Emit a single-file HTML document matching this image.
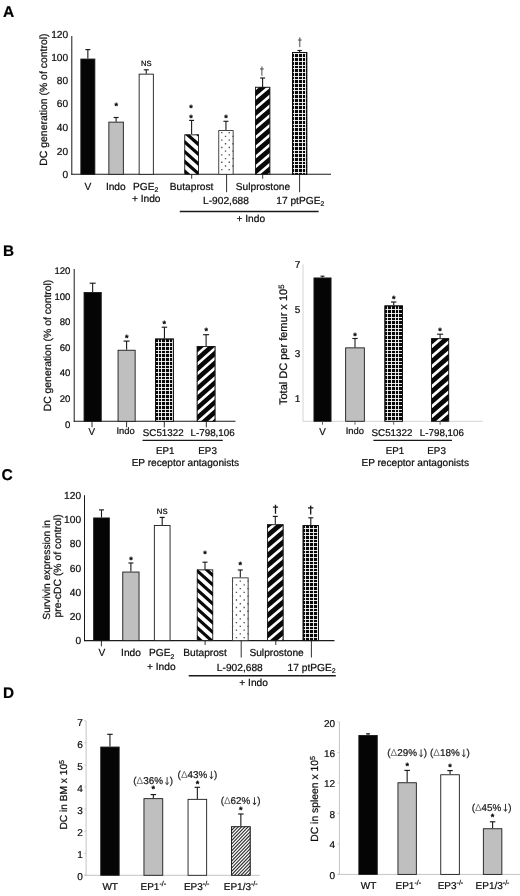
<!DOCTYPE html>
<html><head><meta charset="utf-8"><title>Figure</title>
<style>
html,body{margin:0;padding:0;background:#fff;}
body{width:520px;height:896px;overflow:hidden;font-family:"Liberation Sans", sans-serif;}
svg{display:block;font-family:"Liberation Sans", sans-serif;fill:#0d0d0d;text-rendering:geometricPrecision;filter:blur(0.35px);}
text{stroke:#0d0d0d;stroke-width:0.22px;}
</style></head><body>
<svg width="520" height="896" viewBox="0 0 520 896">
<defs>
</defs>
<rect width="520" height="896" fill="#fff"/>
<text x="3.00" y="17.00" font-size="15.5" text-anchor="start" font-weight="bold" fill="#000" >A</text>
<text x="3.00" y="256.10" font-size="15.3" text-anchor="start" font-weight="bold" fill="#000" >B</text>
<text x="1.60" y="480.40" font-size="15.6" text-anchor="start" font-weight="bold" fill="#000" >C</text>
<text x="3.00" y="697.50" font-size="15.3" text-anchor="start" font-weight="bold" fill="#000" >D</text>
<line x1="71.8" y1="36" x2="71.8" y2="174.8" stroke="#1a1a1a" stroke-width="1"/>
<line x1="71.3" y1="174.3" x2="331" y2="174.3" stroke="#1a1a1a" stroke-width="1.1"/>
<text x="68.20" y="38.47" font-size="10.2" text-anchor="end" >120</text>
<text x="68.20" y="60.57" font-size="10.2" text-anchor="end" >100</text>
<text x="68.20" y="84.27" font-size="10.2" text-anchor="end" >80</text>
<text x="68.20" y="107.27" font-size="10.2" text-anchor="end" >60</text>
<text x="68.20" y="131.17" font-size="10.2" text-anchor="end" >40</text>
<text x="68.20" y="154.67" font-size="10.2" text-anchor="end" >20</text>
<text x="68.20" y="177.67" font-size="10.2" text-anchor="end" >0</text>
<text transform="translate(46.7,99.6) rotate(-90)" font-size="10.45" text-anchor="middle">DC generation (% of control)</text>
<line x1="87.85" y1="58.6" x2="87.85" y2="49.6" stroke="#1a1a1a" stroke-width="1.1"/>
<line x1="85.35" y1="49.6" x2="90.35" y2="49.6" stroke="#1a1a1a" stroke-width="1.15"/>
<rect x="80.85" y="59.05" width="14.00" height="115.25" fill="#050505" stroke="#1a1a1a" stroke-width="0.9"/>
<line x1="116.1" y1="121.7" x2="116.1" y2="117.5" stroke="#1a1a1a" stroke-width="1.1"/>
<line x1="113.6" y1="117.5" x2="118.6" y2="117.5" stroke="#1a1a1a" stroke-width="1.15"/>
<rect x="108.85" y="122.15" width="14.50" height="52.15" fill="#bfbfbf" stroke="#1a1a1a" stroke-width="0.9"/>
<line x1="146.25" y1="73.7" x2="146.25" y2="69.8" stroke="#1a1a1a" stroke-width="1.1"/>
<line x1="143.75" y1="69.8" x2="148.75" y2="69.8" stroke="#1a1a1a" stroke-width="1.15"/>
<rect x="139.15" y="74.15" width="14.20" height="100.15" fill="#fff" stroke="#1a1a1a" stroke-width="0.9"/>
<line x1="191.60000000000002" y1="134.4" x2="191.60000000000002" y2="120.4" stroke="#1a1a1a" stroke-width="1.1"/>
<line x1="189.10000000000002" y1="120.4" x2="194.10000000000002" y2="120.4" stroke="#1a1a1a" stroke-width="1.15"/>
<clipPath id="c1"><rect x="184.30" y="134.40" width="14.60" height="39.90"/></clipPath>
<rect x="184.30" y="134.40" width="14.60" height="39.90" fill="#fdfdfd"/>
<path clip-path="url(#c1)" d="M184.30 100.47L198.90 113.30V117.60L184.30 104.77ZM184.30 110.24L198.90 123.07V127.37L184.30 114.54ZM184.30 120.01L198.90 132.84V137.14L184.30 124.31ZM184.30 129.78L198.90 142.61V146.91L184.30 134.08ZM184.30 139.55L198.90 152.38V156.68L184.30 143.85ZM184.30 149.32L198.90 162.15V166.45L184.30 153.62ZM184.30 159.09L198.90 171.92V176.22L184.30 163.39ZM184.30 168.86L198.90 181.69V185.99L184.30 173.16ZM184.30 178.63L198.90 191.46V195.76L184.30 182.93ZM184.30 188.40L198.90 201.23V205.53L184.30 192.70Z" fill="#080808"/>
<rect x="184.75" y="134.85" width="13.70" height="39.45" fill="none" stroke="#1a1a1a" stroke-width="0.9"/>
<line x1="225.95" y1="130.1" x2="225.95" y2="121.3" stroke="#1a1a1a" stroke-width="1.1"/>
<line x1="223.45" y1="121.3" x2="228.45" y2="121.3" stroke="#1a1a1a" stroke-width="1.15"/>
<rect x="218.75" y="130.55" width="14.40" height="43.75" fill="#fff" stroke="#333" stroke-width="0.9"/>
<path d="M221.12 132.02h1.35v1.35h-1.35zM228.59 132.02h1.35v1.35h-1.35zM224.85 135.72h1.35v1.35h-1.35zM232.31 135.72h1.35v1.35h-1.35zM221.12 139.42h1.35v1.35h-1.35zM228.59 139.42h1.35v1.35h-1.35zM224.85 143.12h1.35v1.35h-1.35zM232.31 143.12h1.35v1.35h-1.35zM221.12 146.82h1.35v1.35h-1.35zM228.59 146.82h1.35v1.35h-1.35zM224.85 150.52h1.35v1.35h-1.35zM232.31 150.52h1.35v1.35h-1.35zM221.12 154.22h1.35v1.35h-1.35zM228.59 154.22h1.35v1.35h-1.35zM224.85 157.92h1.35v1.35h-1.35zM232.31 157.92h1.35v1.35h-1.35zM221.12 161.62h1.35v1.35h-1.35zM228.59 161.62h1.35v1.35h-1.35zM224.85 165.32h1.35v1.35h-1.35zM232.31 165.32h1.35v1.35h-1.35zM221.12 169.02h1.35v1.35h-1.35zM228.59 169.02h1.35v1.35h-1.35z" fill="#505050"/>
<line x1="262.6" y1="86.9" x2="262.6" y2="78" stroke="#1a1a1a" stroke-width="1.1"/>
<line x1="260.1" y1="78" x2="265.1" y2="78" stroke="#1a1a1a" stroke-width="1.15"/>
<clipPath id="c2"><rect x="255.00" y="86.90" width="15.20" height="87.40"/></clipPath>
<rect x="255.00" y="86.90" width="15.20" height="87.40" fill="#080808"/>
<path clip-path="url(#c2)" d="M255.00 58.03L270.20 45.05V48.55L255.00 61.53ZM255.00 67.80L270.20 54.82V58.32L255.00 71.30ZM255.00 77.57L270.20 64.59V68.09L255.00 81.07ZM255.00 87.34L270.20 74.36V77.86L255.00 90.84ZM255.00 97.11L270.20 84.13V87.63L255.00 100.61ZM255.00 106.88L270.20 93.90V97.40L255.00 110.38ZM255.00 116.65L270.20 103.67V107.17L255.00 120.15ZM255.00 126.42L270.20 113.44V116.94L255.00 129.92ZM255.00 136.19L270.20 123.21V126.71L255.00 139.69ZM255.00 145.96L270.20 132.98V136.48L255.00 149.46ZM255.00 155.73L270.20 142.75V146.25L255.00 159.23ZM255.00 165.50L270.20 152.52V156.02L255.00 169.00ZM255.00 175.27L270.20 162.29V165.79L255.00 178.77ZM255.00 185.04L270.20 172.06V175.56L255.00 188.54ZM255.00 194.81L270.20 181.83V185.33L255.00 198.31Z" fill="#fdfdfd"/>
<rect x="255.45" y="87.35" width="14.30" height="86.95" fill="none" stroke="#1a1a1a" stroke-width="0.9"/>
<line x1="299.6" y1="52" x2="299.6" y2="50.5" stroke="#1a1a1a" stroke-width="1.1"/>
<line x1="297.35" y1="50.5" x2="301.85" y2="50.5" stroke="#1a1a1a" stroke-width="1.15"/>
<rect x="292.00" y="52.00" width="15.20" height="122.30" fill="#080808"/>
<path d="M294.5 52.80V174.30M298.5 52.80V174.30M302.5 52.80V174.30M305.5 52.80V174.30M292.80 53.5H306.40M292.80 57.5H306.40M292.80 61.5H306.40M292.80 65.5H306.40M292.80 68.5H306.40M292.80 72.5H306.40M292.80 76.5H306.40M292.80 79.5H306.40M292.80 83.5H306.40M292.80 87.5H306.40M292.80 90.5H306.40M292.80 94.5H306.40M292.80 98.5H306.40M292.80 102.5H306.40M292.80 105.5H306.40M292.80 109.5H306.40M292.80 113.5H306.40M292.80 116.5H306.40M292.80 120.5H306.40M292.80 124.5H306.40M292.80 127.5H306.40M292.80 131.5H306.40M292.80 135.5H306.40M292.80 139.5H306.40M292.80 142.5H306.40M292.80 146.5H306.40M292.80 150.5H306.40M292.80 153.5H306.40M292.80 157.5H306.40M292.80 161.5H306.40M292.80 164.5H306.40M292.80 168.5H306.40M292.80 172.5H306.40" fill="none" stroke="#ffffff" stroke-width="0.88"/>
<rect x="292.45" y="52.45" width="14.30" height="121.85" fill="none" stroke="#111" stroke-width="0.9"/>
<text x="116.30" y="108.81" font-size="9" text-anchor="middle" font-weight="bold" fill="#000" >*</text>
<text x="146.20" y="65.64" font-size="7.6" text-anchor="middle" fill="#000" >NS</text>
<text x="190.90" y="110.51" font-size="9" text-anchor="middle" font-weight="bold" fill="#000" >*</text>
<text x="190.90" y="120.91" font-size="9" text-anchor="middle" font-weight="bold" fill="#000" >*</text>
<text x="226.00" y="120.81" font-size="9" text-anchor="middle" font-weight="bold" fill="#000" >*</text>
<path d="M261.90 66.40V75.80M260.00 68.94H263.80" fill="none" stroke="#4a4a4a" stroke-width="1.0"/>
<path d="M299.80 37.40V47.10M297.90 40.02H301.70" fill="none" stroke="#4a4a4a" stroke-width="1.0"/>
<line x1="191.7" y1="174.3" x2="191.7" y2="178.8" stroke="#1a1a1a" stroke-width="0.9"/>
<line x1="226.6" y1="174.3" x2="226.6" y2="192.2" stroke="#1a1a1a" stroke-width="0.9"/>
<line x1="262.7" y1="174.3" x2="262.7" y2="178.8" stroke="#1a1a1a" stroke-width="0.9"/>
<line x1="299.6" y1="174.3" x2="299.6" y2="192.2" stroke="#1a1a1a" stroke-width="0.9"/>
<text x="87.80" y="190.00" font-size="10.2" text-anchor="middle" >V</text>
<text x="115.80" y="190.00" font-size="10.2" text-anchor="middle" >Indo</text>
<text x="145.70" y="189.80" font-size="10.2" text-anchor="middle" >PGE<tspan font-size="68%" dy="2.6">2</tspan></text>
<text x="146.20" y="202.30" font-size="10.2" text-anchor="middle" >+ Indo</text>
<text x="191.60" y="190.00" font-size="10.2" text-anchor="middle" >Butaprost</text>
<text x="263.00" y="190.00" font-size="10.2" text-anchor="middle" >Sulprostone</text>
<text x="226.00" y="203.70" font-size="10.2" text-anchor="middle" >L-902,688</text>
<text x="300.30" y="203.70" font-size="10.2" text-anchor="middle" >17 ptPGE<tspan font-size="68%" dy="2.6">2</tspan></text>
<line x1="179.8" y1="211.4" x2="318.6" y2="211.4" stroke="#1a1a1a" stroke-width="1.5"/>
<text x="250.80" y="222.20" font-size="10.2" text-anchor="middle" >+ Indo</text>
<line x1="74.2" y1="269" x2="74.2" y2="421.8" stroke="#1a1a1a" stroke-width="1"/>
<line x1="73.7" y1="421.3" x2="235.5" y2="421.3" stroke="#1a1a1a" stroke-width="1.1"/>
<text x="70.40" y="273.76" font-size="9.6" text-anchor="end" >120</text>
<text x="70.40" y="299.76" font-size="9.6" text-anchor="end" >100</text>
<text x="70.40" y="324.76" font-size="9.6" text-anchor="end" >80</text>
<text x="70.40" y="350.56" font-size="9.6" text-anchor="end" >60</text>
<text x="70.40" y="376.26" font-size="9.6" text-anchor="end" >40</text>
<text x="70.40" y="401.86" font-size="9.6" text-anchor="end" >20</text>
<text x="70.40" y="427.76" font-size="9.6" text-anchor="end" >0</text>
<text transform="translate(50.8,345.5) rotate(-90)" font-size="10.4" text-anchor="middle">DC generation (% of control)</text>
<line x1="92.65" y1="292.1" x2="92.65" y2="283.2" stroke="#1a1a1a" stroke-width="1.1"/>
<line x1="89.65" y1="283.2" x2="95.65" y2="283.2" stroke="#1a1a1a" stroke-width="1.15"/>
<rect x="84.05" y="292.55" width="17.20" height="128.75" fill="#050505" stroke="#1a1a1a" stroke-width="0.9"/>
<line x1="126.6" y1="349.8" x2="126.6" y2="341.1" stroke="#1a1a1a" stroke-width="1.1"/>
<line x1="123.6" y1="341.1" x2="129.6" y2="341.1" stroke="#1a1a1a" stroke-width="1.15"/>
<rect x="118.05" y="350.25" width="17.10" height="71.05" fill="#bfbfbf" stroke="#1a1a1a" stroke-width="0.9"/>
<line x1="164.45" y1="338.6" x2="164.45" y2="327.2" stroke="#1a1a1a" stroke-width="1.1"/>
<line x1="161.75" y1="327.2" x2="167.14999999999998" y2="327.2" stroke="#1a1a1a" stroke-width="1.15"/>
<rect x="155.10" y="338.60" width="18.70" height="82.70" fill="#080808"/>
<path d="M158.5 339.40V421.30M161.5 339.40V421.30M165.5 339.40V421.30M169.5 339.40V421.30M172.5 339.40V421.30M155.90 342.5H173.00M155.90 346.5H173.00M155.90 350.5H173.00M155.90 353.5H173.00M155.90 357.5H173.00M155.90 361.5H173.00M155.90 365.5H173.00M155.90 368.5H173.00M155.90 372.5H173.00M155.90 376.5H173.00M155.90 379.5H173.00M155.90 383.5H173.00M155.90 387.5H173.00M155.90 390.5H173.00M155.90 394.5H173.00M155.90 398.5H173.00M155.90 401.5H173.00M155.90 405.5H173.00M155.90 409.5H173.00M155.90 412.5H173.00M155.90 416.5H173.00M155.90 420.5H173.00" fill="none" stroke="#ffffff" stroke-width="0.88"/>
<rect x="155.55" y="339.05" width="17.80" height="82.25" fill="none" stroke="#111" stroke-width="0.9"/>
<line x1="206.10000000000002" y1="346" x2="206.10000000000002" y2="334.7" stroke="#1a1a1a" stroke-width="1.1"/>
<line x1="203.10000000000002" y1="334.7" x2="209.10000000000002" y2="334.7" stroke="#1a1a1a" stroke-width="1.15"/>
<clipPath id="c3"><rect x="196.80" y="346.00" width="18.60" height="75.30"/></clipPath>
<rect x="196.80" y="346.00" width="18.60" height="75.30" fill="#080808"/>
<path clip-path="url(#c3)" d="M196.80 313.90L215.40 297.39V300.99L196.80 317.50ZM196.80 323.67L215.40 307.16V310.76L196.80 327.27ZM196.80 333.44L215.40 316.93V320.53L196.80 337.04ZM196.80 343.21L215.40 326.70V330.30L196.80 346.81ZM196.80 352.98L215.40 336.47V340.07L196.80 356.58ZM196.80 362.75L215.40 346.24V349.84L196.80 366.35ZM196.80 372.52L215.40 356.01V359.61L196.80 376.12ZM196.80 382.29L215.40 365.78V369.38L196.80 385.89ZM196.80 392.06L215.40 375.55V379.15L196.80 395.66ZM196.80 401.83L215.40 385.32V388.92L196.80 405.43ZM196.80 411.60L215.40 395.09V398.69L196.80 415.20ZM196.80 421.37L215.40 404.86V408.46L196.80 424.97ZM196.80 431.14L215.40 414.63V418.23L196.80 434.74ZM196.80 440.91L215.40 424.40V428.00L196.80 444.51Z" fill="#fdfdfd"/>
<rect x="197.25" y="346.45" width="17.70" height="74.85" fill="none" stroke="#1a1a1a" stroke-width="0.9"/>
<text x="126.70" y="340.50" font-size="9" text-anchor="middle" font-weight="bold" fill="#000" >*</text>
<text x="164.30" y="327.11" font-size="9" text-anchor="middle" font-weight="bold" fill="#000" >*</text>
<text x="206.30" y="334.11" font-size="9" text-anchor="middle" font-weight="bold" fill="#000" >*</text>
<line x1="92.0" y1="421.3" x2="92.0" y2="427.3" stroke="#1a1a1a" stroke-width="0.9"/>
<line x1="126.6" y1="421.3" x2="126.6" y2="427.3" stroke="#1a1a1a" stroke-width="0.9"/>
<line x1="164.3" y1="421.3" x2="164.3" y2="427.3" stroke="#1a1a1a" stroke-width="0.9"/>
<line x1="206.3" y1="421.3" x2="206.3" y2="427.3" stroke="#1a1a1a" stroke-width="0.9"/>
<text x="91.80" y="435.00" font-size="9.8" text-anchor="middle" >V</text>
<text x="125.60" y="434.20" font-size="9.4" text-anchor="middle" >Indo</text>
<text x="163.20" y="436.40" font-size="9.8" text-anchor="middle" >SC51322</text>
<text x="212.60" y="436.40" font-size="9.8" text-anchor="middle" >L-798,106</text>
<line x1="142.5" y1="440.4" x2="222.8" y2="440.4" stroke="#1a1a1a" stroke-width="1.2"/>
<text x="165.30" y="453.73" font-size="9.8" text-anchor="middle" >EP1</text>
<text x="207.60" y="453.73" font-size="9.8" text-anchor="middle" >EP3</text>
<text x="185.40" y="466.48" font-size="10.1" text-anchor="middle" >EP receptor antagonists</text>
<line x1="303" y1="264.4" x2="303" y2="421.3" stroke="#d4d4d4" stroke-width="1"/>
<line x1="303" y1="421.3" x2="482.5" y2="421.3" stroke="#d4d4d4" stroke-width="1"/>
<text x="300.20" y="267.90" font-size="10" text-anchor="end" >7</text>
<text x="300.20" y="312.80" font-size="10" text-anchor="end" >5</text>
<text x="300.20" y="357.40" font-size="10" text-anchor="end" >3</text>
<text x="300.20" y="402.20" font-size="10" text-anchor="end" >1</text>
<text transform="translate(287.2,344.8) rotate(-90)" font-size="11.0" text-anchor="middle">Total DC per femur x 10<tspan font-size="70%" dy="-3.6">5</tspan></text>
<line x1="322.5" y1="277.5" x2="322.5" y2="276.2" stroke="#1a1a1a" stroke-width="1.1"/>
<line x1="320.5" y1="276.2" x2="324.5" y2="276.2" stroke="#1a1a1a" stroke-width="1.15"/>
<rect x="313.95" y="277.95" width="17.10" height="143.35" fill="#050505" stroke="#1a1a1a" stroke-width="0.9"/>
<line x1="355.0" y1="347.4" x2="355.0" y2="338.5" stroke="#1a1a1a" stroke-width="1.1"/>
<line x1="352.3" y1="338.5" x2="357.7" y2="338.5" stroke="#1a1a1a" stroke-width="1.15"/>
<rect x="345.65" y="347.85" width="18.70" height="73.45" fill="#bfbfbf" stroke="#1a1a1a" stroke-width="0.9"/>
<line x1="393.7" y1="305.5" x2="393.7" y2="302" stroke="#1a1a1a" stroke-width="1.1"/>
<line x1="391.0" y1="302" x2="396.4" y2="302" stroke="#1a1a1a" stroke-width="1.15"/>
<rect x="384.50" y="305.50" width="18.40" height="115.80" fill="#080808"/>
<path d="M387.5 306.30V421.30M391.5 306.30V421.30M395.5 306.30V421.30M398.5 306.30V421.30M385.30 309.5H402.10M385.30 313.5H402.10M385.30 317.5H402.10M385.30 320.5H402.10M385.30 324.5H402.10M385.30 328.5H402.10M385.30 331.5H402.10M385.30 335.5H402.10M385.30 339.5H402.10M385.30 342.5H402.10M385.30 346.5H402.10M385.30 350.5H402.10M385.30 353.5H402.10M385.30 357.5H402.10M385.30 361.5H402.10M385.30 364.5H402.10M385.30 368.5H402.10M385.30 372.5H402.10M385.30 375.5H402.10M385.30 379.5H402.10M385.30 383.5H402.10M385.30 386.5H402.10M385.30 390.5H402.10M385.30 394.5H402.10M385.30 398.5H402.10M385.30 401.5H402.10M385.30 405.5H402.10M385.30 409.5H402.10M385.30 412.5H402.10M385.30 416.5H402.10M385.30 420.5H402.10" fill="none" stroke="#ffffff" stroke-width="0.88"/>
<rect x="384.95" y="305.95" width="17.50" height="115.35" fill="none" stroke="#111" stroke-width="0.9"/>
<line x1="440.1" y1="338.2" x2="440.1" y2="334.2" stroke="#1a1a1a" stroke-width="1.1"/>
<line x1="437.1" y1="334.2" x2="443.1" y2="334.2" stroke="#1a1a1a" stroke-width="1.15"/>
<clipPath id="c4"><rect x="431.10" y="338.20" width="18.00" height="83.10"/></clipPath>
<rect x="431.10" y="338.20" width="18.00" height="83.10" fill="#080808"/>
<path clip-path="url(#c4)" d="M431.10 305.30L449.10 289.65V293.25L431.10 308.90ZM431.10 315.30L449.10 299.65V303.25L431.10 318.90ZM431.10 325.30L449.10 309.65V313.25L431.10 328.90ZM431.10 335.30L449.10 319.65V323.25L431.10 338.90ZM431.10 345.30L449.10 329.65V333.25L431.10 348.90ZM431.10 355.30L449.10 339.65V343.25L431.10 358.90ZM431.10 365.30L449.10 349.65V353.25L431.10 368.90ZM431.10 375.30L449.10 359.65V363.25L431.10 378.90ZM431.10 385.30L449.10 369.65V373.25L431.10 388.90ZM431.10 395.30L449.10 379.65V383.25L431.10 398.90ZM431.10 405.30L449.10 389.65V393.25L431.10 408.90ZM431.10 415.30L449.10 399.65V403.25L431.10 418.90ZM431.10 425.30L449.10 409.65V413.25L431.10 428.90ZM431.10 435.30L449.10 419.65V423.25L431.10 438.90Z" fill="#fdfdfd"/>
<rect x="431.55" y="338.65" width="17.10" height="82.65" fill="none" stroke="#1a1a1a" stroke-width="0.9"/>
<text x="355.00" y="339.00" font-size="9" text-anchor="middle" font-weight="bold" fill="#000" >*</text>
<text x="393.70" y="302.31" font-size="9" text-anchor="middle" font-weight="bold" fill="#000" >*</text>
<text x="440.10" y="333.81" font-size="9" text-anchor="middle" font-weight="bold" fill="#000" >*</text>
<line x1="322.5" y1="421.3" x2="322.5" y2="424.7" stroke="#555" stroke-width="0.9"/>
<line x1="355" y1="421.3" x2="355" y2="424.7" stroke="#555" stroke-width="0.9"/>
<line x1="393.7" y1="421.3" x2="393.7" y2="424.7" stroke="#555" stroke-width="0.9"/>
<line x1="440.1" y1="421.3" x2="440.1" y2="424.7" stroke="#555" stroke-width="0.9"/>
<text x="322.40" y="435.20" font-size="9.8" text-anchor="middle" >V</text>
<text x="354.80" y="434.40" font-size="9.4" text-anchor="middle" >Indo</text>
<text x="392.00" y="436.20" font-size="9.8" text-anchor="middle" >SC51322</text>
<text x="441.90" y="436.30" font-size="9.8" text-anchor="middle" >L-798,106</text>
<line x1="373.4" y1="440.4" x2="452" y2="440.4" stroke="#1a1a1a" stroke-width="1.2"/>
<text x="395.00" y="453.73" font-size="9.8" text-anchor="middle" >EP1</text>
<text x="436.60" y="453.73" font-size="9.8" text-anchor="middle" >EP3</text>
<text x="415.20" y="465.88" font-size="10.1" text-anchor="middle" >EP receptor antagonists</text>
<line x1="84.5" y1="495.2" x2="84.5" y2="641.1" stroke="#1a1a1a" stroke-width="1"/>
<line x1="84.0" y1="640.6" x2="334.5" y2="640.6" stroke="#1a1a1a" stroke-width="1.1"/>
<text x="81.10" y="499.27" font-size="10.2" text-anchor="end" >120</text>
<text x="81.10" y="523.37" font-size="10.2" text-anchor="end" >100</text>
<text x="81.10" y="547.47" font-size="10.2" text-anchor="end" >80</text>
<text x="81.10" y="571.77" font-size="10.2" text-anchor="end" >60</text>
<text x="81.10" y="595.67" font-size="10.2" text-anchor="end" >40</text>
<text x="81.10" y="619.87" font-size="10.2" text-anchor="end" >20</text>
<text x="81.10" y="643.97" font-size="10.2" text-anchor="end" >0</text>
<text transform="translate(49.9,569.8) rotate(-90)" font-size="10.25" text-anchor="middle">Survivin expression in</text>
<text transform="translate(61.0,566) rotate(-90)" font-size="10.38" text-anchor="middle">pre-cDC (% of control)</text>
<line x1="101.5" y1="517.5" x2="101.5" y2="509.9" stroke="#1a1a1a" stroke-width="1.1"/>
<line x1="99.0" y1="509.9" x2="104.0" y2="509.9" stroke="#1a1a1a" stroke-width="1.15"/>
<rect x="93.65" y="517.95" width="15.70" height="122.65" fill="#050505" stroke="#1a1a1a" stroke-width="0.9"/>
<line x1="130.9" y1="571.6" x2="130.9" y2="563" stroke="#1a1a1a" stroke-width="1.1"/>
<line x1="128.4" y1="563" x2="133.4" y2="563" stroke="#1a1a1a" stroke-width="1.15"/>
<rect x="122.75" y="572.05" width="16.30" height="68.55" fill="#bfbfbf" stroke="#1a1a1a" stroke-width="0.9"/>
<line x1="162.2" y1="525.1" x2="162.2" y2="517.4" stroke="#1a1a1a" stroke-width="1.1"/>
<line x1="159.7" y1="517.4" x2="164.7" y2="517.4" stroke="#1a1a1a" stroke-width="1.15"/>
<rect x="154.35" y="525.55" width="15.70" height="115.05" fill="#fff" stroke="#1a1a1a" stroke-width="0.9"/>
<line x1="205.0" y1="569.4" x2="205.0" y2="562.2" stroke="#1a1a1a" stroke-width="1.1"/>
<line x1="202.5" y1="562.2" x2="207.5" y2="562.2" stroke="#1a1a1a" stroke-width="1.15"/>
<clipPath id="c5"><rect x="196.80" y="569.40" width="16.40" height="71.20"/></clipPath>
<rect x="196.80" y="569.40" width="16.40" height="71.20" fill="#fdfdfd"/>
<path clip-path="url(#c5)" d="M196.80 539.85L213.20 554.62V558.72L196.80 543.95ZM196.80 549.35L213.20 564.12V568.22L196.80 553.45ZM196.80 558.85L213.20 573.62V577.72L196.80 562.95ZM196.80 568.35L213.20 583.12V587.22L196.80 572.45ZM196.80 577.85L213.20 592.62V596.72L196.80 581.95ZM196.80 587.35L213.20 602.12V606.22L196.80 591.45ZM196.80 596.85L213.20 611.62V615.72L196.80 600.95ZM196.80 606.35L213.20 621.12V625.22L196.80 610.45ZM196.80 615.85L213.20 630.62V634.72L196.80 619.95ZM196.80 625.35L213.20 640.12V644.22L196.80 629.45ZM196.80 634.85L213.20 649.62V653.72L196.80 638.95ZM196.80 644.35L213.20 659.12V663.22L196.80 648.45ZM196.80 653.85L213.20 668.62V672.72L196.80 657.95Z" fill="#080808"/>
<rect x="197.25" y="569.85" width="15.50" height="70.75" fill="none" stroke="#1a1a1a" stroke-width="0.9"/>
<line x1="240.3" y1="577.4" x2="240.3" y2="570" stroke="#1a1a1a" stroke-width="1.1"/>
<line x1="237.8" y1="570" x2="242.8" y2="570" stroke="#1a1a1a" stroke-width="1.15"/>
<rect x="232.45" y="577.85" width="15.70" height="62.75" fill="#fff" stroke="#333" stroke-width="0.9"/>
<path d="M231.91 580.43h1.35v1.35h-1.35zM239.62 580.43h1.35v1.35h-1.35zM247.34 580.43h1.35v1.35h-1.35zM235.77 584.20h1.35v1.35h-1.35zM243.49 584.20h1.35v1.35h-1.35zM231.91 587.97h1.35v1.35h-1.35zM239.62 587.97h1.35v1.35h-1.35zM247.34 587.97h1.35v1.35h-1.35zM235.77 591.74h1.35v1.35h-1.35zM243.49 591.74h1.35v1.35h-1.35zM231.91 595.51h1.35v1.35h-1.35zM239.62 595.51h1.35v1.35h-1.35zM247.34 595.51h1.35v1.35h-1.35zM235.77 599.28h1.35v1.35h-1.35zM243.49 599.28h1.35v1.35h-1.35zM231.91 603.05h1.35v1.35h-1.35zM239.62 603.05h1.35v1.35h-1.35zM247.34 603.05h1.35v1.35h-1.35zM235.77 606.82h1.35v1.35h-1.35zM243.49 606.82h1.35v1.35h-1.35zM231.91 610.59h1.35v1.35h-1.35zM239.62 610.59h1.35v1.35h-1.35zM247.34 610.59h1.35v1.35h-1.35zM235.77 614.36h1.35v1.35h-1.35zM243.49 614.36h1.35v1.35h-1.35zM231.91 618.13h1.35v1.35h-1.35zM239.62 618.13h1.35v1.35h-1.35zM247.34 618.13h1.35v1.35h-1.35zM235.77 621.90h1.35v1.35h-1.35zM243.49 621.90h1.35v1.35h-1.35zM231.91 625.67h1.35v1.35h-1.35zM239.62 625.67h1.35v1.35h-1.35zM247.34 625.67h1.35v1.35h-1.35zM235.77 629.44h1.35v1.35h-1.35zM243.49 629.44h1.35v1.35h-1.35zM231.91 633.21h1.35v1.35h-1.35zM239.62 633.21h1.35v1.35h-1.35zM247.34 633.21h1.35v1.35h-1.35zM235.77 636.98h1.35v1.35h-1.35zM243.49 636.98h1.35v1.35h-1.35z" fill="#505050"/>
<line x1="275.3" y1="524.3" x2="275.3" y2="516.4" stroke="#1a1a1a" stroke-width="1.1"/>
<line x1="272.8" y1="516.4" x2="277.8" y2="516.4" stroke="#1a1a1a" stroke-width="1.15"/>
<clipPath id="c6"><rect x="267.10" y="524.30" width="16.40" height="116.30"/></clipPath>
<rect x="267.10" y="524.30" width="16.40" height="116.30" fill="#080808"/>
<path clip-path="url(#c6)" d="M267.10 489.10L283.50 475.14V478.74L267.10 492.70ZM267.10 499.10L283.50 485.14V488.74L267.10 502.70ZM267.10 509.10L283.50 495.14V498.74L267.10 512.70ZM267.10 519.10L283.50 505.14V508.74L267.10 522.70ZM267.10 529.10L283.50 515.14V518.74L267.10 532.70ZM267.10 539.10L283.50 525.14V528.74L267.10 542.70ZM267.10 549.10L283.50 535.14V538.74L267.10 552.70ZM267.10 559.10L283.50 545.14V548.74L267.10 562.70ZM267.10 569.10L283.50 555.14V558.74L267.10 572.70ZM267.10 579.10L283.50 565.14V568.74L267.10 582.70ZM267.10 589.10L283.50 575.14V578.74L267.10 592.70ZM267.10 599.10L283.50 585.14V588.74L267.10 602.70ZM267.10 609.10L283.50 595.14V598.74L267.10 612.70ZM267.10 619.10L283.50 605.14V608.74L267.10 622.70ZM267.10 629.10L283.50 615.14V618.74L267.10 632.70ZM267.10 639.10L283.50 625.14V628.74L267.10 642.70ZM267.10 649.10L283.50 635.14V638.74L267.10 652.70ZM267.10 659.10L283.50 645.14V648.74L267.10 662.70Z" fill="#fdfdfd"/>
<rect x="267.55" y="524.75" width="15.50" height="115.85" fill="none" stroke="#1a1a1a" stroke-width="0.9"/>
<line x1="310.79999999999995" y1="525.1" x2="310.79999999999995" y2="517.8" stroke="#1a1a1a" stroke-width="1.1"/>
<line x1="308.29999999999995" y1="517.8" x2="313.29999999999995" y2="517.8" stroke="#1a1a1a" stroke-width="1.15"/>
<rect x="302.70" y="525.10" width="16.20" height="115.50" fill="#080808"/>
<path d="M305.5 525.90V640.60M309.5 525.90V640.60M313.5 525.90V640.60M317.5 525.90V640.60M303.50 528.5H318.10M303.50 532.5H318.10M303.50 535.5H318.10M303.50 539.5H318.10M303.50 542.5H318.10M303.50 546.5H318.10M303.50 550.5H318.10M303.50 553.5H318.10M303.50 557.5H318.10M303.50 561.5H318.10M303.50 564.5H318.10M303.50 568.5H318.10M303.50 571.5H318.10M303.50 575.5H318.10M303.50 579.5H318.10M303.50 582.5H318.10M303.50 586.5H318.10M303.50 590.5H318.10M303.50 593.5H318.10M303.50 597.5H318.10M303.50 600.5H318.10M303.50 604.5H318.10M303.50 608.5H318.10M303.50 611.5H318.10M303.50 615.5H318.10M303.50 619.5H318.10M303.50 622.5H318.10M303.50 626.5H318.10M303.50 629.5H318.10M303.50 633.5H318.10M303.50 637.5H318.10" fill="none" stroke="#ffffff" stroke-width="0.88"/>
<rect x="303.15" y="525.55" width="15.30" height="115.05" fill="none" stroke="#111" stroke-width="0.9"/>
<text x="131.00" y="563.31" font-size="9" text-anchor="middle" font-weight="bold" fill="#000" >*</text>
<text x="162.20" y="514.37" font-size="7.7" text-anchor="middle" fill="#000" >NS</text>
<text x="205.10" y="557.01" font-size="9" text-anchor="middle" font-weight="bold" fill="#000" >*</text>
<text x="240.20" y="568.31" font-size="9" text-anchor="middle" font-weight="bold" fill="#000" >*</text>
<path d="M275.50 504.70V513.80M272.90 507.16H278.10" fill="none" stroke="#151515" stroke-width="1.3"/>
<path d="M310.70 505.50V514.50M308.00 507.93H313.40" fill="none" stroke="#151515" stroke-width="1.3"/>
<line x1="101.4" y1="640.6" x2="101.4" y2="646.3" stroke="#1a1a1a" stroke-width="0.9"/>
<line x1="205.1" y1="640.6" x2="205.1" y2="645" stroke="#1a1a1a" stroke-width="0.9"/>
<line x1="241.2" y1="640.6" x2="241.2" y2="657.5" stroke="#1a1a1a" stroke-width="0.9"/>
<line x1="275.8" y1="640.6" x2="275.8" y2="645" stroke="#1a1a1a" stroke-width="0.9"/>
<line x1="311.4" y1="640.6" x2="311.4" y2="657.5" stroke="#1a1a1a" stroke-width="0.9"/>
<text x="101.80" y="656.20" font-size="10.2" text-anchor="middle" >V</text>
<text x="131.00" y="656.20" font-size="10.2" text-anchor="middle" >Indo</text>
<text x="161.60" y="656.20" font-size="10.2" text-anchor="middle" >PGE<tspan font-size="68%" dy="2.6">2</tspan></text>
<text x="161.30" y="669.60" font-size="10.2" text-anchor="middle" >+ Indo</text>
<text x="205.00" y="656.40" font-size="10.2" text-anchor="middle" >Butaprost</text>
<text x="276.60" y="656.40" font-size="10.2" text-anchor="middle" >Sulprostone</text>
<text x="239.80" y="670.60" font-size="10.2" text-anchor="middle" >L-902,688</text>
<text x="311.60" y="670.60" font-size="10.2" text-anchor="middle" >17 ptPGE<tspan font-size="68%" dy="2.6">2</tspan></text>
<line x1="188.7" y1="675.8" x2="335.8" y2="675.8" stroke="#1a1a1a" stroke-width="1.4"/>
<text x="253.60" y="685.50" font-size="10.2" text-anchor="middle" >+ Indo</text>
<line x1="86.1" y1="720.8" x2="86.1" y2="875.3" stroke="#c4c4c4" stroke-width="1"/>
<line x1="84.1" y1="875.3" x2="259.5" y2="875.3" stroke="#c4c4c4" stroke-width="1"/>
<line x1="84.1" y1="720.8" x2="86.1" y2="720.8" stroke="#c4c4c4" stroke-width="0.8"/>
<line x1="84.1" y1="742.87" x2="86.1" y2="742.87" stroke="#c4c4c4" stroke-width="0.8"/>
<line x1="84.1" y1="764.9399999999999" x2="86.1" y2="764.9399999999999" stroke="#c4c4c4" stroke-width="0.8"/>
<line x1="84.1" y1="787.01" x2="86.1" y2="787.01" stroke="#c4c4c4" stroke-width="0.8"/>
<line x1="84.1" y1="809.0799999999999" x2="86.1" y2="809.0799999999999" stroke="#c4c4c4" stroke-width="0.8"/>
<line x1="84.1" y1="831.15" x2="86.1" y2="831.15" stroke="#c4c4c4" stroke-width="0.8"/>
<line x1="84.1" y1="853.22" x2="86.1" y2="853.22" stroke="#c4c4c4" stroke-width="0.8"/>
<line x1="84.1" y1="875.29" x2="86.1" y2="875.29" stroke="#c4c4c4" stroke-width="0.8"/>
<text x="82.80" y="726.10" font-size="10" text-anchor="end" >7</text>
<text x="82.80" y="748.00" font-size="10" text-anchor="end" >6</text>
<text x="82.80" y="770.00" font-size="10" text-anchor="end" >5</text>
<text x="82.80" y="792.10" font-size="10" text-anchor="end" >4</text>
<text x="82.80" y="814.10" font-size="10" text-anchor="end" >3</text>
<text x="82.80" y="836.10" font-size="10" text-anchor="end" >2</text>
<text x="82.80" y="858.20" font-size="10" text-anchor="end" >1</text>
<text x="82.80" y="880.20" font-size="10" text-anchor="end" >0</text>
<text transform="translate(67.4,794.8) rotate(-90)" font-size="10.2" text-anchor="middle">DC in BM x 10<tspan font-size="70%" dy="-3.6">5</tspan></text>
<line x1="109.94999999999999" y1="746.6" x2="109.94999999999999" y2="734.3" stroke="#1a1a1a" stroke-width="1.1"/>
<line x1="107.19999999999999" y1="734.3" x2="112.69999999999999" y2="734.3" stroke="#1a1a1a" stroke-width="1.15"/>
<rect x="100.75" y="747.05" width="18.40" height="128.25" fill="#050505" stroke="#1a1a1a" stroke-width="0.9"/>
<line x1="153.35" y1="798.2" x2="153.35" y2="794.6" stroke="#1a1a1a" stroke-width="1.1"/>
<line x1="150.6" y1="794.6" x2="156.1" y2="794.6" stroke="#1a1a1a" stroke-width="1.15"/>
<rect x="143.95" y="798.65" width="18.80" height="76.65" fill="#bfbfbf" stroke="#1a1a1a" stroke-width="0.9"/>
<line x1="197.35" y1="798.9" x2="197.35" y2="787.3" stroke="#1a1a1a" stroke-width="1.1"/>
<line x1="194.6" y1="787.3" x2="200.1" y2="787.3" stroke="#1a1a1a" stroke-width="1.15"/>
<rect x="188.05" y="799.35" width="18.60" height="75.95" fill="#fff" stroke="#1a1a1a" stroke-width="0.9"/>
<line x1="240.85" y1="826.3" x2="240.85" y2="814" stroke="#1a1a1a" stroke-width="1.1"/>
<line x1="238.1" y1="814" x2="243.6" y2="814" stroke="#1a1a1a" stroke-width="1.15"/>
<clipPath id="c7"><rect x="231.10" y="826.30" width="19.50" height="49.00"/></clipPath>
<rect x="231.10" y="826.30" width="19.50" height="49.00" fill="#2e2e2e"/>
<path clip-path="url(#c7)" d="M231.10 800.88L250.60 780.68V782.53L231.10 802.73ZM231.10 804.30L250.60 784.10V785.95L231.10 806.15ZM231.10 807.72L250.60 787.52V789.37L231.10 809.57ZM231.10 811.14L250.60 790.94V792.79L231.10 812.99ZM231.10 814.56L250.60 794.36V796.21L231.10 816.41ZM231.10 817.98L250.60 797.78V799.63L231.10 819.83ZM231.10 821.40L250.60 801.20V803.05L231.10 823.25ZM231.10 824.82L250.60 804.62V806.47L231.10 826.67ZM231.10 828.24L250.60 808.04V809.89L231.10 830.09ZM231.10 831.66L250.60 811.46V813.31L231.10 833.50ZM231.10 835.08L250.60 814.88V816.73L231.10 836.92ZM231.10 838.50L250.60 818.30V820.15L231.10 840.34ZM231.10 841.91L250.60 821.72V823.57L231.10 843.76ZM231.10 845.33L250.60 825.14V826.99L231.10 847.18ZM231.10 848.75L250.60 828.56V830.41L231.10 850.60ZM231.10 852.17L250.60 831.98V833.83L231.10 854.02ZM231.10 855.59L250.60 835.40V837.25L231.10 857.44ZM231.10 859.01L250.60 838.82V840.67L231.10 860.86ZM231.10 862.43L250.60 842.24V844.09L231.10 864.28ZM231.10 865.85L250.60 845.66V847.51L231.10 867.70ZM231.10 869.27L250.60 849.08V850.93L231.10 871.12ZM231.10 872.69L250.60 852.50V854.35L231.10 874.54ZM231.10 876.11L250.60 855.92V857.77L231.10 877.96ZM231.10 879.53L250.60 859.34V861.19L231.10 881.38ZM231.10 882.95L250.60 862.76V864.61L231.10 884.80ZM231.10 886.37L250.60 866.18V868.03L231.10 888.22ZM231.10 889.79L250.60 869.60V871.45L231.10 891.64ZM231.10 893.21L250.60 873.02V874.87L231.10 895.06ZM231.10 896.63L250.60 876.44V878.29L231.10 898.48Z" fill="#fdfdfd"/>
<rect x="231.55" y="826.75" width="18.60" height="48.55" fill="none" stroke="#1a1a1a" stroke-width="0.9"/>
<text x="153.20" y="792.31" font-size="9" text-anchor="middle" font-weight="bold" fill="#000" >*</text>
<text x="197.40" y="786.71" font-size="9" text-anchor="middle" font-weight="bold" fill="#000" >*</text>
<text x="240.80" y="813.41" font-size="9" text-anchor="middle" font-weight="bold" fill="#000" >*</text>
<text x="133.30" y="784.16" font-size="9.9" fill="#2a2a2a">(<tspan fill="#707070" stroke="none">Δ</tspan>36%</text>
<path d="M167.10 777.10V784.50M165.50 782.50L167.10 784.70L168.70 782.50" fill="none" stroke="#333" stroke-width="0.95"/>
<text x="169.80" y="784.16" font-size="9.9" fill="#2a2a2a">)</text>
<text x="177.60" y="778.26" font-size="9.9" fill="#2a2a2a">(<tspan fill="#707070" stroke="none">Δ</tspan>43%</text>
<path d="M211.40 771.20V778.60M209.80 776.60L211.40 778.80L213.00 776.60" fill="none" stroke="#333" stroke-width="0.95"/>
<text x="214.10" y="778.26" font-size="9.9" fill="#2a2a2a">)</text>
<text x="220.70" y="804.36" font-size="9.9" fill="#2a2a2a">(<tspan fill="#707070" stroke="none">Δ</tspan>62%</text>
<path d="M254.50 797.30V804.70M252.90 802.70L254.50 804.90L256.10 802.70" fill="none" stroke="#333" stroke-width="0.95"/>
<text x="257.20" y="804.36" font-size="9.9" fill="#2a2a2a">)</text>
<text x="110.20" y="890.00" font-size="10" text-anchor="middle" >WT</text>
<text x="153.30" y="890.00" font-size="10" text-anchor="middle" >EP1<tspan font-size="70%" dy="-3.6">-/-</tspan></text>
<text x="196.70" y="890.00" font-size="10" text-anchor="middle" >EP3<tspan font-size="70%" dy="-3.6">-/-</tspan></text>
<text x="240.70" y="890.00" font-size="10" text-anchor="middle" >EP1/3<tspan font-size="70%" dy="-3.6">-/-</tspan></text>
<line x1="339.4" y1="721.9" x2="339.4" y2="874.4" stroke="#c4c4c4" stroke-width="1"/>
<line x1="337.4" y1="874.4" x2="520" y2="874.4" stroke="#c4c4c4" stroke-width="1"/>
<line x1="337.4" y1="721.9" x2="339.4" y2="721.9" stroke="#c4c4c4" stroke-width="0.8"/>
<line x1="337.4" y1="752.4" x2="339.4" y2="752.4" stroke="#c4c4c4" stroke-width="0.8"/>
<line x1="337.4" y1="782.9" x2="339.4" y2="782.9" stroke="#c4c4c4" stroke-width="0.8"/>
<line x1="337.4" y1="813.4" x2="339.4" y2="813.4" stroke="#c4c4c4" stroke-width="0.8"/>
<line x1="337.4" y1="843.9" x2="339.4" y2="843.9" stroke="#c4c4c4" stroke-width="0.8"/>
<line x1="337.4" y1="874.4" x2="339.4" y2="874.4" stroke="#c4c4c4" stroke-width="0.8"/>
<text x="335.00" y="726.60" font-size="10" text-anchor="end" >20</text>
<text x="335.00" y="756.80" font-size="10" text-anchor="end" >16</text>
<text x="335.00" y="787.20" font-size="10" text-anchor="end" >12</text>
<text x="335.00" y="817.80" font-size="10" text-anchor="end" >8</text>
<text x="335.00" y="848.00" font-size="10" text-anchor="end" >4</text>
<text x="335.00" y="878.60" font-size="10" text-anchor="end" >0</text>
<text transform="translate(318.1,798.8) rotate(-90)" font-size="10.38" text-anchor="middle">DC in spleen x 10<tspan font-size="70%" dy="-3.6">5</tspan></text>
<line x1="368.04999999999995" y1="735" x2="368.04999999999995" y2="733.8" stroke="#1a1a1a" stroke-width="1.1"/>
<line x1="366.04999999999995" y1="733.8" x2="370.04999999999995" y2="733.8" stroke="#1a1a1a" stroke-width="1.15"/>
<rect x="358.85" y="735.45" width="18.40" height="138.95" fill="#050505" stroke="#1a1a1a" stroke-width="0.9"/>
<line x1="407.15" y1="782.3" x2="407.15" y2="770.4" stroke="#1a1a1a" stroke-width="1.1"/>
<line x1="404.4" y1="770.4" x2="409.9" y2="770.4" stroke="#1a1a1a" stroke-width="1.15"/>
<rect x="397.95" y="782.75" width="18.40" height="91.65" fill="#bfbfbf" stroke="#1a1a1a" stroke-width="0.9"/>
<line x1="450.05" y1="774.3" x2="450.05" y2="770.6" stroke="#1a1a1a" stroke-width="1.1"/>
<line x1="447.3" y1="770.6" x2="452.8" y2="770.6" stroke="#1a1a1a" stroke-width="1.15"/>
<rect x="440.75" y="774.75" width="18.60" height="99.65" fill="#fff" stroke="#1a1a1a" stroke-width="0.9"/>
<line x1="492.6" y1="828.3" x2="492.6" y2="821.8" stroke="#1a1a1a" stroke-width="1.1"/>
<line x1="489.85" y1="821.8" x2="495.35" y2="821.8" stroke="#1a1a1a" stroke-width="1.15"/>
<rect x="483.35" y="828.75" width="18.50" height="45.65" fill="#bfbfbf" stroke="#1a1a1a" stroke-width="0.9"/>
<text x="407.20" y="769.01" font-size="9" text-anchor="middle" font-weight="bold" fill="#000" >*</text>
<text x="450.00" y="769.51" font-size="9" text-anchor="middle" font-weight="bold" fill="#000" >*</text>
<text x="492.60" y="820.11" font-size="9" text-anchor="middle" font-weight="bold" fill="#000" >*</text>
<text x="387.30" y="756.36" font-size="9.9" fill="#2a2a2a">(<tspan fill="#707070" stroke="none">Δ</tspan>29%</text>
<path d="M421.10 749.30V756.70M419.50 754.70L421.10 756.90L422.70 754.70" fill="none" stroke="#333" stroke-width="0.95"/>
<text x="423.80" y="756.36" font-size="9.9" fill="#2a2a2a">)</text>
<text x="430.00" y="756.36" font-size="9.9" fill="#2a2a2a">(<tspan fill="#707070" stroke="none">Δ</tspan>18%</text>
<path d="M463.80 749.30V756.70M462.20 754.70L463.80 756.90L465.40 754.70" fill="none" stroke="#333" stroke-width="0.95"/>
<text x="466.50" y="756.36" font-size="9.9" fill="#2a2a2a">)</text>
<text x="471.70" y="810.86" font-size="9.9" fill="#2a2a2a">(<tspan fill="#707070" stroke="none">Δ</tspan>45%</text>
<path d="M505.50 803.80V811.20M503.90 809.20L505.50 811.40L507.10 809.20" fill="none" stroke="#333" stroke-width="0.95"/>
<text x="508.20" y="810.86" font-size="9.9" fill="#2a2a2a">)</text>
<text x="368.50" y="888.70" font-size="10" text-anchor="middle" >WT</text>
<text x="408.30" y="888.70" font-size="10" text-anchor="middle" >EP1<tspan font-size="70%" dy="-3.6">-/-</tspan></text>
<text x="450.40" y="888.70" font-size="10" text-anchor="middle" >EP3<tspan font-size="70%" dy="-3.6">-/-</tspan></text>
<text x="492.50" y="888.70" font-size="10" text-anchor="middle" >EP1/3<tspan font-size="70%" dy="-3.6">-/-</tspan></text>
</svg></body></html>
